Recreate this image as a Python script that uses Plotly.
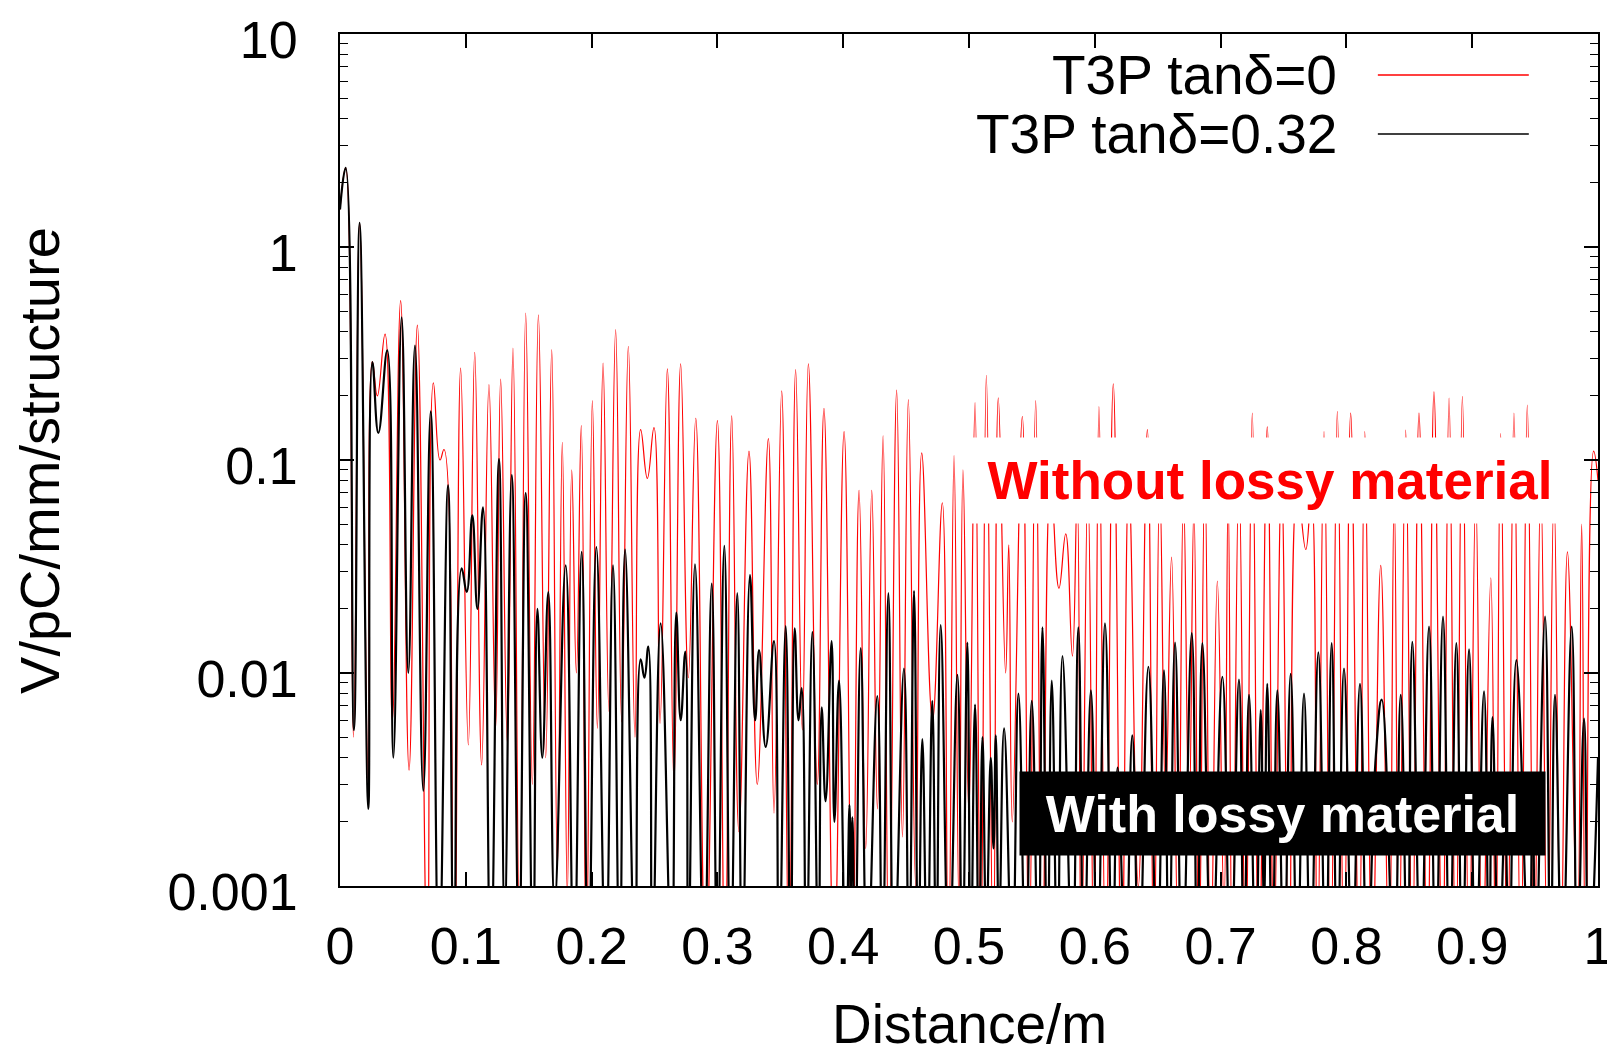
import plotly.graph_objects as go

# red curve: T3P tan(delta)=0  (peaks and dips)
red_x = [0.0000, 0.0045, 0.0107, 0.0156, 0.0225, 0.0257, 0.0297, 0.0358, 0.0416, 0.0482,
         0.0549, 0.0615, 0.0694, 0.0742, 0.0795, 0.0827, 0.0906, 0.0959, 0.1020, 0.1071,
         0.1126, 0.1184, 0.1237, 0.1277, 0.1330, 0.1375, 0.1428, 0.1476, 0.1529, 0.1577,
         0.1635, 0.1683, 0.1728, 0.1767, 0.1807, 0.1842, 0.1879, 0.1918, 0.1958, 0.2006,
         0.2046, 0.2091, 0.2138, 0.2191, 0.2239, 0.2292, 0.2345, 0.2390, 0.2443, 0.2496,
         0.2544, 0.2602, 0.2655, 0.2708, 0.2769, 0.2828, 0.2907, 0.3000, 0.3060, 0.3114,
         0.3171, 0.3251, 0.3317, 0.3405, 0.3450, 0.3511, 0.3569, 0.3622, 0.3675, 0.3723,
         0.3794, 0.3847, 0.3927, 0.4007, 0.4073, 0.4126, 0.4179, 0.4227, 0.4272, 0.4317,
         0.4364, 0.4425, 0.4471, 0.4518, 0.4576, 0.4624, 0.4710, 0.4788, 0.4836, 0.4881,
         0.4920, 0.4952, 0.4999, 0.5048, 0.5093, 0.5138, 0.5193, 0.5233, 0.5291, 0.5316,
         0.5344, 0.5424, 0.5477, 0.5530, 0.5583, 0.5649, 0.5715, 0.5769, 0.5822, 0.5860,
         0.5893, 0.5945, 0.5993, 0.6033, 0.6087, 0.6147, 0.6214, 0.6270, 0.6346, 0.6418,
         0.6470, 0.6516, 0.6563, 0.6610, 0.6660, 0.6705, 0.6749, 0.6788, 0.6828, 0.6875,
         0.6921, 0.6974, 0.7027, 0.7060, 0.7093, 0.7146, 0.7199, 0.7252, 0.7305, 0.7371,
         0.7424, 0.7484, 0.7544, 0.7610, 0.7677, 0.7722, 0.7769, 0.7822, 0.7875, 0.7928,
         0.7981, 0.8034, 0.8101, 0.8146, 0.8206, 0.8273, 0.8339, 0.8380, 0.8418, 0.8471,
         0.8524, 0.8577, 0.8644, 0.8696, 0.8763, 0.8816, 0.8869, 0.8922, 0.8975, 0.9028,
         0.9081, 0.9148, 0.9187, 0.9226, 0.9280, 0.9332, 0.9386, 0.9438, 0.9492, 0.9545,
         0.9598, 0.9650, 0.9704, 0.9757, 0.9836, 0.9870, 0.9902, 0.9965, 1.0000]
red_y = [1.5, 2.35, 0.005, 1.30, 0.003, 0.29, 0.20, 0.39, 0.006, 0.56,
         0.0035, 0.43, 0.0004, 0.23, 0.10, 0.112, 0.0004, 0.27, 0.0046, 0.32,
         0.0037, 0.226, 0.0055, 0.24, 0.0047, 0.335, 0.0005, 0.49, 0.003, 0.48,
         0.004, 0.33, 0.0012, 0.121, 0.0009, 0.09, 0.01, 0.145, 0.0004, 0.19,
         0.0055, 0.285, 0.0066, 0.41, 0.0059, 0.342, 0.005, 0.139, 0.082, 0.142,
         0.0058, 0.268, 0.003, 0.283, 0.0095, 0.157, 0.0004, 0.153, 0.0004, 0.161,
         0.0018, 0.11, 0.003, 0.126, 0.0022, 0.211, 0.0004, 0.266, 0.0054, 0.283,
         0.003, 0.175, 0.0004, 0.136, 0.0004, 0.072, 0.0015, 0.072, 0.0023, 0.13,
         0.0004, 0.213, 0.0017, 0.192, 0.001, 0.108, 0.006, 0.063, 0.0004, 0.105,
         0.0008, 0.090, 0.0022, 0.186, 0.0004, 0.25, 0.0004, 0.196, 0.01, 0.04,
         0.002, 0.16, 0.0004, 0.19, 0.0004, 0.08, 0.025, 0.045, 0.012, 0.07,
         0.0004, 0.08, 0.0004, 0.178, 0.0004, 0.228, 0.0004, 0.08, 0.001, 0.139,
         0.0004, 0.08, 0.0025, 0.035, 0.0006, 0.07, 0.002, 0.06, 0.0004, 0.09,
         0.0004, 0.027, 0.0008, 0.07, 0.0004, 0.09, 0.0004, 0.166, 0.0004, 0.143,
         0.0005, 0.08, 0.0004, 0.075, 0.038, 0.07, 0.0004, 0.136, 0.0004, 0.169,
         0.0004, 0.166, 0.0004, 0.136, 0.0004, 0.032, 0.0004, 0.07, 0.0004, 0.138,
         0.0004, 0.166, 0.0004, 0.209, 0.0004, 0.195, 0.0004, 0.199, 0.0004, 0.07,
         0.0004, 0.028, 0.0004, 0.133, 0.0004, 0.166, 0.0004, 0.181, 0.0004, 0.08,
         0.0004, 0.07, 0.0004, 0.037, 0.0006, 0.05, 0.0004, 0.11, 0.08]

# black curve: T3P tan(delta)=0.32
black_x = [0.0000, 0.0045, 0.0111, 0.0156, 0.0225, 0.0257, 0.0305, 0.0376, 0.0424, 0.0490,
           0.0543, 0.0596, 0.0662, 0.0721, 0.0787, 0.0859, 0.0906, 0.0967, 0.1007, 0.1052,
           0.1092, 0.1137, 0.1198, 0.1264, 0.1309, 0.1365, 0.1423, 0.1476, 0.1534, 0.1569,
           0.1608, 0.1656, 0.1706, 0.1794, 0.1860, 0.1921, 0.1974, 0.2038, 0.2112, 0.2170,
           0.2223, 0.2266, 0.2345, 0.2390, 0.2420, 0.2451, 0.2483, 0.2549, 0.2636, 0.2673,
           0.2708, 0.2745, 0.2769, 0.2822, 0.2894, 0.2955, 0.3000, 0.3055, 0.3105, 0.3158,
           0.3198, 0.3259, 0.3300, 0.3331, 0.3384, 0.3450, 0.3490, 0.3543, 0.3582, 0.3614,
           0.3645, 0.3670, 0.3707, 0.3755, 0.3803, 0.3829, 0.3860, 0.3908, 0.3930, 0.3967,
           0.4020, 0.4050, 0.4060, 0.4073, 0.4095, 0.4139, 0.4192, 0.4271, 0.4312, 0.4359,
           0.4404, 0.4483, 0.4523, 0.4563, 0.4597, 0.4629, 0.4668, 0.4708, 0.4740, 0.4775,
           0.4841, 0.4908, 0.4947, 0.4987, 0.5014, 0.5048, 0.5080, 0.5107, 0.5138, 0.5173,
           0.5195, 0.5213, 0.5239, 0.5279, 0.5344, 0.5393, 0.5451, 0.5499, 0.5551, 0.5584,
           0.5623, 0.5658, 0.5703, 0.5743, 0.5822, 0.5869, 0.5915, 0.5969, 0.6021, 0.6081,
           0.6141, 0.6181, 0.6245, 0.6298, 0.6352, 0.6426, 0.6496, 0.6550, 0.6590, 0.6638,
           0.6696, 0.6771, 0.6815, 0.6855, 0.6930, 0.7014, 0.7080, 0.7146, 0.7186, 0.7226,
           0.7279, 0.7319, 0.7345, 0.7371, 0.7411, 0.7451, 0.7504, 0.7557, 0.7610, 0.7663,
           0.7716, 0.7777, 0.7835, 0.7883, 0.7928, 0.7981, 0.8047, 0.8108, 0.8167, 0.8233,
           0.8281, 0.8379, 0.8432, 0.8485, 0.8524, 0.8591, 0.8657, 0.8710, 0.8768, 0.8821,
           0.8874, 0.8922, 0.8975, 0.9028, 0.9094, 0.9134, 0.9161, 0.9213, 0.9260, 0.9293,
           0.9351, 0.9452, 0.9480, 0.9505, 0.9579, 0.9623, 0.9658, 0.9716, 0.9791, 0.9836,
           0.9889, 0.9929, 1.0000]
black_y = [1.5, 2.35, 0.0054, 1.30, 0.0023, 0.288, 0.134, 0.327, 0.004, 0.467,
           0.01, 0.344, 0.0028, 0.169, 0.0004, 0.076, 0.0004, 0.031, 0.024, 0.055,
           0.02, 0.060, 0.0004, 0.101, 0.0007, 0.085, 0.0005, 0.070, 0.0004, 0.020,
           0.004, 0.024, 0.0008, 0.032, 0.0004, 0.037, 0.0004, 0.039, 0.0004, 0.032,
           0.0004, 0.038, 0.0004, 0.0116, 0.0095, 0.0133, 0.0004, 0.0171, 0.0004, 0.0192,
           0.006, 0.0126, 0.0004, 0.0324, 0.0004, 0.0263, 0.0004, 0.0395, 0.0004, 0.0237,
           0.0004, 0.0288, 0.006, 0.0128, 0.0045, 0.0141, 0.0004, 0.0166, 0.0004, 0.0162,
           0.006, 0.0085, 0.0004, 0.0156, 0.0004, 0.0069, 0.0025, 0.0141, 0.002, 0.0092,
           0.0004, 0.0024, 0.0008, 0.0021, 0.0004, 0.0131, 0.0004, 0.0078, 0.0004, 0.0237,
           0.0004, 0.0105, 0.0004, 0.0243, 0.0004, 0.0049, 0.0004, 0.0074, 0.0004, 0.0168,
           0.0004, 0.0098, 0.0004, 0.0139, 0.0004, 0.0071, 0.0004, 0.0050, 0.0006, 0.0040,
           0.0015, 0.0051, 0.0006, 0.0055, 0.0004, 0.008, 0.0004, 0.0074, 0.0004, 0.0164,
           0.0004, 0.0092, 0.0004, 0.012, 0.0004, 0.0164, 0.0004, 0.0083, 0.0004, 0.0171,
           0.0004, 0.0036, 0.0004, 0.0051, 0.0004, 0.0107, 0.0004, 0.0103, 0.0004, 0.0139,
           0.0004, 0.0154, 0.0004, 0.0138, 0.0004, 0.0096, 0.0004, 0.0093, 0.0004, 0.0079,
           0.0004, 0.0067, 0.0008, 0.0089, 0.0004, 0.0083, 0.0004, 0.0099, 0.0004, 0.0080,
           0.0004, 0.0125, 0.0004, 0.0138, 0.0004, 0.0105, 0.0004, 0.0089, 0.0004, 0.004,
           0.0075, 0.0004, 0.0079, 0.0004, 0.014, 0.0004, 0.0165, 0.0004, 0.0184, 0.0004,
           0.0138, 0.0004, 0.0129, 0.0004, 0.0082, 0.0004, 0.0062, 0.0004, 0.002, 0.0004,
           0.0115, 0.0004, 0.003, 0.0004, 0.0184, 0.0004, 0.0079, 0.0004, 0.0165, 0.0004,
           0.0061, 0.0004, 0.004]

x_ticks = [0, 0.1, 0.2, 0.3, 0.4, 0.5, 0.6, 0.7, 0.8, 0.9, 1]
x_labels = ['0', '0.1', '0.2', '0.3', '0.4', '0.5', '0.6', '0.7', '0.8', '0.9', '1']
y_ticks = [0.001, 0.01, 0.1, 1, 10]
y_labels = ['0.001', '0.01', '0.1', '1', '10']

font = 'Liberation Sans, Arial, sans-serif'

fig = go.Figure()
fig.add_trace(go.Scatter(x=red_x, y=red_y, mode='lines', name='T3P tanδ=0',
                         line=dict(color='#ff0000', width=1.2, shape='spline', smoothing=1.3)))
fig.add_trace(go.Scatter(x=black_x, y=black_y, mode='lines', name='T3P tanδ=0.32',
                         line=dict(color='#000000', width=2.2, shape='spline', smoothing=1.3)))

# the page puts the figure 8px in from the top-left corner
fig.update_layout(
    width=1615, height=1053,
    margin=dict(l=332, r=25, t=26, b=175),
    plot_bgcolor='white', paper_bgcolor='white',
    showlegend=False,
    font=dict(family=font, color='black'),
)
fig.update_xaxes(range=[0, 1], tickvals=x_ticks, ticktext=x_labels, automargin=False,
                 ticks='inside', ticklen=14, tickwidth=1.5, tickcolor='black',
                 showline=True, linewidth=2, linecolor='black', mirror='allticks',
                 showgrid=False, zeroline=False, tickfont=dict(size=52),
                 ticklabelstandoff=14, ticklabeloverflow='allow')
fig.update_yaxes(type='log', range=[-3, 1], tickvals=y_ticks, ticktext=y_labels, automargin=False,
                 ticks='inside', ticklen=14, tickwidth=1.5, tickcolor='black',
                 minor=dict(ticks='inside', ticklen=8, tickwidth=1, tickcolor='black', dtick='D1'),
                 showline=True, linewidth=2, linecolor='black', mirror='allticks',
                 showgrid=False, zeroline=False, tickfont=dict(size=52),
                 ticklabelstandoff=30, ticklabelshift=6, ticklabeloverflow='allow')

# axis titles
fig.add_annotation(text='Distance/m', xref='paper', yref='paper', x=0.5, y=-0.162,
                   xanchor='center', yanchor='middle', showarrow=False, font=dict(size=55))
fig.add_annotation(text='V/pC/mm/structure', xref='paper', yref='paper', x=-0.2393, y=0.5,
                   xanchor='center', yanchor='middle', textangle=-90, showarrow=False,
                   font=dict(size=56))

# legend, gnuplot style: text then line sample
legend_rows = [('T3P tanδ=0', '#ff0000', 0.9519, 1.5), ('T3P tanδ=0.32', '#000000', 0.8826, 1.5)]
for label, colour, ypos, lw in legend_rows:
    fig.add_annotation(text=label, xref='paper', yref='paper', x=0.794, y=ypos,
                       xanchor='right', yanchor='middle', showarrow=False, font=dict(size=55))
    fig.add_shape(type='line', xref='paper', yref='paper', x0=0.825, x1=0.945, y0=ypos, y1=ypos,
                  line=dict(color=colour, width=lw))

# labels on the curves
fig.add_annotation(text='<b>Without lossy material</b>', x=0.739, y=-1.096,
                   xanchor='center', yanchor='middle', showarrow=False,
                   width=604, height=85, borderpad=0, bgcolor='white',
                   font=dict(size=53, color='#ff0000'))
fig.add_annotation(text='<b>With lossy material</b>', x=0.7492, y=-2.66,
                   xanchor='center', yanchor='middle', showarrow=False,
                   width=525, height=83, borderpad=0, bgcolor='black',
                   font=dict(size=52, color='white'))

fig.write_html('out.html')
